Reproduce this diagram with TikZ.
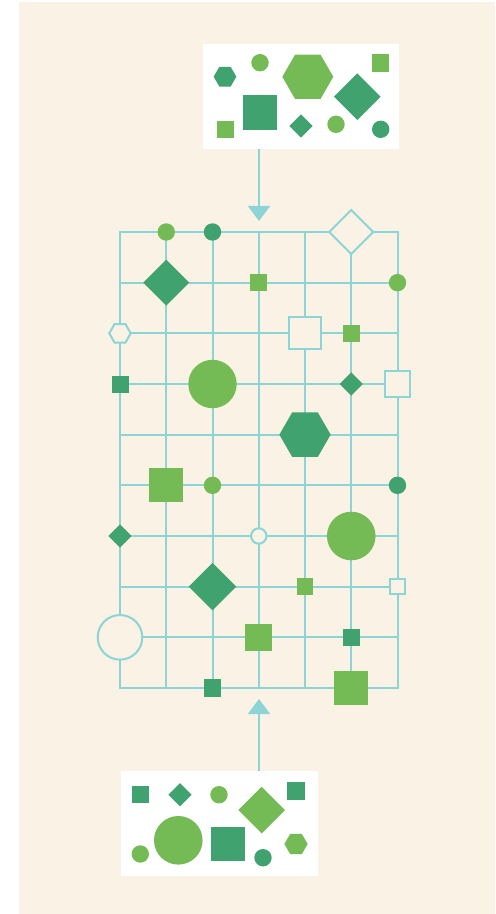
\documentclass[tikz,border=0pt]{standalone}
\usetikzlibrary{shapes.geometric,arrows.meta}
\definecolor{bgc}{HTML}{F9F2E5}
\definecolor{gridc}{HTML}{8CD4D6}
\definecolor{dgreen}{HTML}{40A26E}
\definecolor{lgreen}{HTML}{74BA55}
\begin{document}
\begin{tikzpicture}[x=0.5pt,y=-0.5pt,
  base/.style={inner sep=0pt,outer sep=0pt,draw=none},
  lf/.style={base,fill=lgreen},
  df/.style={base,fill=dgreen},
  of/.style={base,fill=bgc,draw=gridc,line width=1pt},
  sqr/.style={rectangle,minimum size=#1*0.5pt},
  cir/.style={circle,minimum size=#1*0.5pt},
  dia/.style={diamond,aspect=1,minimum width=#1*0.5pt,minimum height=#1*0.5pt},
  hex/.style={regular polygon,regular polygon sides=6,minimum size=#1*0.5pt},
  gline/.style={draw=gridc,line width=1pt,line cap=rect},
  conn/.style={draw=gridc,line width=1pt,-{Triangle[width=11pt,length=7.5pt]}},
  panel/.style={base,fill=white,rectangle,minimum width=#1*0.5pt},
]
\useasboundingbox (0,0) rectangle (495,914);
\fill[bgc] (19,2) rectangle (495,914);

% grid points
\foreach \i in {0,...,6}{
  \foreach \j in {0,...,9}{
    \coordinate (p\i\j) at ({120+46.25*\i},{232+50.6667*\j});
  }
}
\foreach \i in {0,...,6}{\draw[gline] (p\i0) -- (p\i9);}
\foreach \j in {0,...,9}{\draw[gline] (p0\j) -- (p6\j);}

% panels
\node[panel=196.7,minimum height=52.65pt] (top) at (301,96.7) {};
\node[panel=197.3,minimum height=52.5pt] (bot) at (219.3,823.5) {};
\coordinate (toptip) at (259,221);
\coordinate (bottip) at (259,699);
\draw[conn] (top.south -| toptip) -- (toptip);
\draw[conn] (bot.north -| bottip) -- (bottip);

% top panel shapes
\node[df,hex=22.7] (t1) at (225,76.7) {};
\node[lf,cir=17.4] (t2) at (260,62.7) {};
\node[lf,hex=51] (t3) at (307.8,76.8) {};
\node[lf,sqr=17.3] (t4) at (380.7,63) {};
\node[df,dia=46.6] (t5) at (357.3,96.7) {};
\node[df,sqr=34.7] (t6) at (260,112.5) {};
\node[lf,sqr=17.5] (t7) at (225.3,129.5) {};
\node[df,dia=23.4] (t8) at (301,126) {};
\node[lf,cir=17.4] (t9) at (336,124.3) {};
\node[df,cir=17.4] (t10) at (380.7,129.3) {};

% bottom panel shapes
\node[df,sqr=17.3] (b1) at (140.7,794.7) {};
\node[df,dia=23.4] (b2) at (180,794.7) {};
\node[lf,cir=17.4] (b3) at (219,794.7) {};
\node[lf,dia=46.6] (b4) at (261.7,810) {};
\node[df,sqr=17.3] (b5) at (296,791) {};
\node[lf,cir=17.4] (b6) at (140.3,854) {};
\node[lf,cir=48.6] (b7) at (178.3,840.3) {};
\node[df,sqr=34] (b8) at (228,843.7) {};
\node[df,cir=17.4] (b9) at (263,857.7) {};
\node[lf,hex=23.3] (b10) at (296,844) {};

% grid shapes
\node[lf,cir=17.4] (n10) at (p10) {};
\node[df,cir=17.4] (n20) at (p20) {};
\node[of,dia=44] (n50) at (p50) {};
\node[df,dia=46] (n11) at (p11) {};
\node[lf,sqr=17] (n31) at (p31) {};
\node[lf,cir=17.4] (n61) at (p61) {};
\node[of,hex=21.5] (n02) at (p02) {};
\node[of,sqr=32] (n42) at (p42) {};
\node[lf,sqr=17] (n52) at (p52) {};
\node[df,sqr=17] (n03) at (p03) {};
\node[lf,cir=48.4] (n23) at (p23) {};
\node[df,dia=23.4] (n53) at (p53) {};
\node[of,sqr=25.7] (n63) at (p63) {};
\node[df,hex=51.3] (n44) at (p44) {};
\node[lf,sqr=34.3] (n15) at (p15) {};
\node[lf,cir=17.4] (n25) at (p25) {};
\node[df,cir=17.4] (n65) at (p65) {};
\node[df,dia=23.4] (n06) at (p06) {};
\node[of,cir=15.4] (n36) at (p36) {};
\node[lf,cir=48.6] (n56) at (p56) {};
\node[df,dia=47.6] (n27) at (p27) {};
\node[lf,sqr=16.7] (n47) at (p47) {};
\node[of,sqr=15.3] (n67) at (p67) {};
\node[of,cir=44.6] (n08) at (p08) {};
\node[lf,sqr=27.3] (n38) at (p38) {};
\node[df,sqr=17] (n58) at (p58) {};
\node[df,sqr=17.3] (n29) at (p29) {};
\node[lf,sqr=33.7] (n59) at (p59) {};
\end{tikzpicture}
\end{document}
